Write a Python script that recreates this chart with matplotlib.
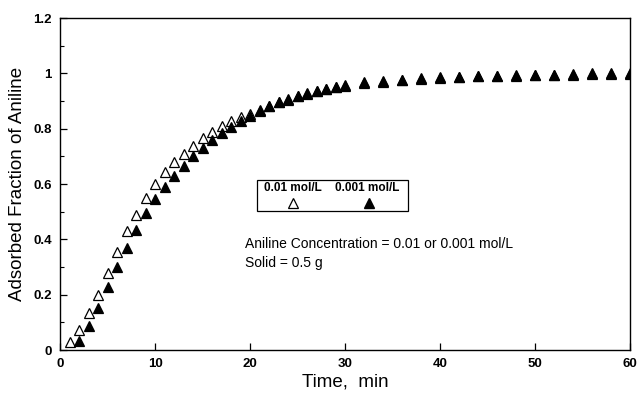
import matplotlib
matplotlib.use('Agg')
import matplotlib.pyplot as plt
from matplotlib.patches import Rectangle
from matplotlib.ticker import MultipleLocator

plt.rcParams['font.family'] = ['Liberation Sans', 'DejaVu Sans']

# adsorption kinetics, 0.01 mol/L aniline (open triangles)
t_hi = [1, 2, 3, 4, 5, 6, 7, 8, 9, 10, 11, 12, 13, 14, 15, 16, 17, 18, 19, 20,
        21, 22, 23, 24, 25, 26, 27, 28, 29, 30,
        32, 34, 36, 38, 40, 42, 44, 46, 48, 50, 52, 54, 56, 58, 60]
f_hi = [0.030, 0.072, 0.133, 0.200, 0.280, 0.355, 0.430, 0.490, 0.550, 0.600,
        0.642, 0.680, 0.708, 0.737, 0.765, 0.790, 0.810, 0.829, 0.843, 0.855,
        0.866, 0.881, 0.895, 0.905, 0.917, 0.926, 0.935, 0.942, 0.950, 0.955,
        0.965, 0.970, 0.976, 0.980, 0.985, 0.986, 0.989, 0.990, 0.991, 0.993,
        0.994, 0.995, 0.997, 0.998, 0.997]

# 0.001 mol/L aniline (filled triangles)
t_lo = [2, 3, 4, 5, 6, 7, 8, 9, 10, 11, 12, 13, 14, 15, 16, 17, 18, 19, 20,
        21, 22, 23, 24, 25, 26, 27, 28, 29, 30,
        32, 34, 36, 38, 40, 42, 44, 46, 48, 50, 52, 54, 56, 58, 60]
f_lo = [0.033, 0.087, 0.153, 0.227, 0.300, 0.368, 0.434, 0.495, 0.545, 0.590,
        0.630, 0.665, 0.700, 0.730, 0.760, 0.783, 0.807, 0.828, 0.846,
        0.867, 0.883, 0.897, 0.907, 0.919, 0.928, 0.937, 0.945, 0.952, 0.958,
        0.968, 0.972, 0.978, 0.982, 0.987, 0.988, 0.992, 0.992, 0.994, 0.995,
        0.996, 0.997, 1.000, 1.002, 1.000]

labels = ['0.01 mol/L', '0.001 mol/L']

fig = plt.figure(figsize=(6.41, 3.93), dpi=100)
ax = fig.add_axes([0.094, 0.109, 0.889, 0.845])

ax.plot(t_hi, f_hi, linestyle='none', marker='^', markersize=7.5,
        markerfacecolor='white', markeredgecolor='black', markeredgewidth=0.9)
ax.plot(t_lo, f_lo, linestyle='none', marker='^', markersize=7.5,
        markerfacecolor='black', markeredgecolor='black', markeredgewidth=0.9)

ax.set_xlim(0, 60)
ax.set_ylim(0, 1.2)
ax.xaxis.set_major_locator(MultipleLocator(10))
ax.yaxis.set_minor_locator(MultipleLocator(0.1))
ax.set_yticks([0, 0.2, 0.4, 0.6, 0.8, 1.0, 1.2])
ax.set_yticklabels(['0', '0.2', '0.4', '0.6', '0.8', '1', '1.2'])
ax.tick_params(which='major', direction='in', length=5, width=0.9,
               labelsize=9.5, pad=6)
ax.tick_params(which='minor', direction='in', length=3, width=0.8)
for lab in ax.get_xticklabels() + ax.get_yticklabels():
    lab.set_fontweight('bold')
for sp in ax.spines.values():
    sp.set_linewidth(1.0)

ax.set_xlabel('Time,  min', fontsize=13.5, labelpad=2)
ax.set_ylabel('Adsorbed Fraction of Aniline', fontsize=13.5, labelpad=5)

# legend box with labels above the symbols
box = Rectangle((0.345, 0.42), 0.265, 0.092, transform=ax.transAxes,
                facecolor='white', edgecolor='black', linewidth=0.9)
ax.add_patch(box)
ax.text(0.409, 0.488, labels[0], transform=ax.transAxes, fontsize=8.5,
        fontweight='bold', ha='center', va='center')
ax.text(0.539, 0.488, labels[1], transform=ax.transAxes, fontsize=8.5,
        fontweight='bold', ha='center', va='center')
ax.plot([0.409], [0.443], transform=ax.transAxes, marker='^', markersize=7.5,
        markerfacecolor='white', markeredgecolor='black', markeredgewidth=0.9,
        clip_on=False)
ax.plot([0.541], [0.443], transform=ax.transAxes, marker='^', markersize=7.5,
        markerfacecolor='black', markeredgecolor='black', clip_on=False)

ax.text(0.325, 0.319, 'Aniline Concentration = 0.01 or 0.001 mol/L',
        transform=ax.transAxes, fontsize=10, va='center')
ax.text(0.325, 0.262, 'Solid = 0.5 g', transform=ax.transAxes,
        fontsize=10, va='center')

fig.savefig('out.png', dpi=100)
